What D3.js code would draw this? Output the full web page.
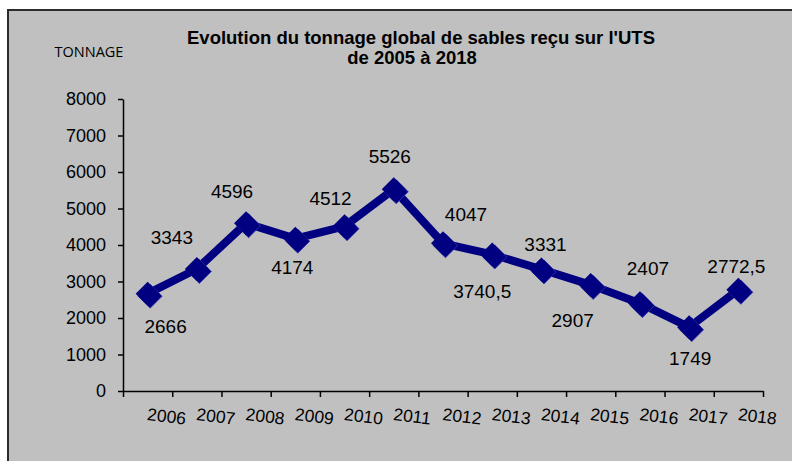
<!DOCTYPE html>
<html>
<head>
<meta charset="utf-8">
<script src="https://cdn.jsdelivr.net/npm/d3@7"></script>
<style>
  html, body { margin: 0; padding: 0; background: #ffffff; }
  svg { display: block; }
  text { font-family: "Liberation Sans", Arial, sans-serif; fill: #000; }
</style>
</head>
<body>
<svg id="chart" width="792" height="461"></svg>
<script>
// ---- Data ----
const years = ["2006","2007","2008","2009","2010","2011","2012","2013","2014","2015","2016","2017","2018"];
const tonnage = [2666, 3343, 4596, 4174, 4512, 5526, 4047, 3740.5, 3331, 2907, 2407, 1749, 2772.5];
const valueLabels = ["2666","3343","4596","4174","4512","5526","4047","3740,5","3331","2907","2407","1749","2772,5"];
const yTicks = [0, 1000, 2000, 3000, 4000, 5000, 6000, 7000, 8000];
const titleLines = ["Evolution du tonnage global de sables reçu sur l'UTS", "de 2005 à 2018"];
const yAxisTitle = "TONNAGE";

// ---- Layout (label placement offsets relative to each point) ----
const labelOffsets = [[18,33],[-25,-32],[-14,-32],[-3,29],[-14,-28],[-4,-33],[23,-29],[-10,37],[4,-25],[-18,35],[8,-35],[1,31],[-2,-23]];

const svg = d3.select("#chart");
const W = 792, H = 461;
const plot = { left: 123, right: 763, top: 99, bottom: 391 };

// frame
svg.append("rect").attr("x", 8).attr("y", 10).attr("width", W + 20).attr("height", H + 20)
  .attr("fill", "#c0c0c0").attr("stroke", "#2b2b2b").attr("stroke-width", 2);

const x = d3.scaleBand().domain(years).range([plot.left, plot.right]).padding(0);
const y = d3.scaleLinear().domain([0, 8000]).range([plot.bottom, plot.top]);

// title
svg.append("text").attr("x", 421).attr("y", 44).attr("text-anchor", "middle")
  .attr("font-size", 18.5).attr("font-weight", "bold").text(titleLines[0]);
svg.append("text").attr("x", 412).attr("y", 64).attr("text-anchor", "middle")
  .attr("font-size", 18.5).attr("font-weight", "bold").text(titleLines[1]);

// y axis title
svg.append("text").attr("x", 89).attr("y", 57).attr("text-anchor", "middle")
  .attr("font-size", 14.5).style("font-family", "'Open Sans', sans-serif").text(yAxisTitle);

// y axis
const yAxis = svg.append("g").attr("transform", `translate(${plot.left},0)`)
  .call(d3.axisLeft(y).tickValues(yTicks).tickSize(5).tickSizeOuter(0).tickPadding(12).tickFormat(d3.format("d")));
yAxis.select(".domain").attr("stroke", "#000").attr("stroke-width", 1.5);
yAxis.selectAll(".tick line").attr("stroke", "#000").attr("stroke-width", 1.5);
yAxis.selectAll(".tick text").attr("font-size", 18).style("font-family", "'Liberation Sans', Arial, sans-serif").attr("fill", "#000");

// x axis (ticks at category boundaries)
const edges = d3.scaleLinear().domain([0, years.length]).range([plot.left, plot.right]);
const xAxis = svg.append("g").attr("transform", `translate(0,${plot.bottom})`)
  .call(d3.axisBottom(edges).tickValues(d3.range(0, years.length + 1)).tickSize(6).tickSizeOuter(0).tickFormat(""));
xAxis.select(".domain").attr("stroke", "#000").attr("stroke-width", 1.5);
xAxis.selectAll(".tick line").attr("stroke", "#000").attr("stroke-width", 1.5);

// x labels (rotated, starting at category centre)
svg.append("g").selectAll("text").data(years).join("text")
  .attr("transform", d => `translate(${x(d) + x.bandwidth() / 2 - 1},${plot.bottom + 29}) rotate(7)`)
  .attr("text-anchor", "start").attr("font-size", 17.5).text(d => d);

// line
const cx = (d, i) => x(years[i]) + x.bandwidth() / 2;
const line = d3.line().x((d, i) => cx(d, i)).y(d => y(d));
svg.append("path").datum(tonnage).attr("d", line)
  .attr("fill", "none").attr("stroke", "#000080").attr("stroke-width", 8).attr("stroke-linejoin", "round");

// markers (diamond with small 3D shadow)
const diamond = r => `M0,${-r}L${r},0L0,${r}L${-r},0Z`;
const mk = svg.append("g");
mk.selectAll("path.sh").data(tonnage).join("path").attr("class", "sh")
  .attr("transform", (d, i) => `translate(${cx(d, i) + 2.5},${y(d) + 2.5})`)
  .attr("d", diamond(12)).attr("fill", "#000080").attr("stroke", "#3a3ab0").attr("stroke-width", 0.8);
mk.selectAll("path.mn").data(tonnage).join("path").attr("class", "mn")
  .attr("transform", (d, i) => `translate(${cx(d, i)},${y(d)})`)
  .attr("d", diamond(12)).attr("fill", "#000080");

// value labels
svg.append("g").selectAll("text").data(tonnage).join("text")
  .attr("x", (d, i) => cx(d, i) + labelOffsets[i][0])
  .attr("y", (d, i) => y(d) + labelOffsets[i][1])
  .attr("dy", "0.35em").attr("text-anchor", "middle").attr("font-size", 19)
  .text((d, i) => valueLabels[i]);
</script>
</body>
</html>
